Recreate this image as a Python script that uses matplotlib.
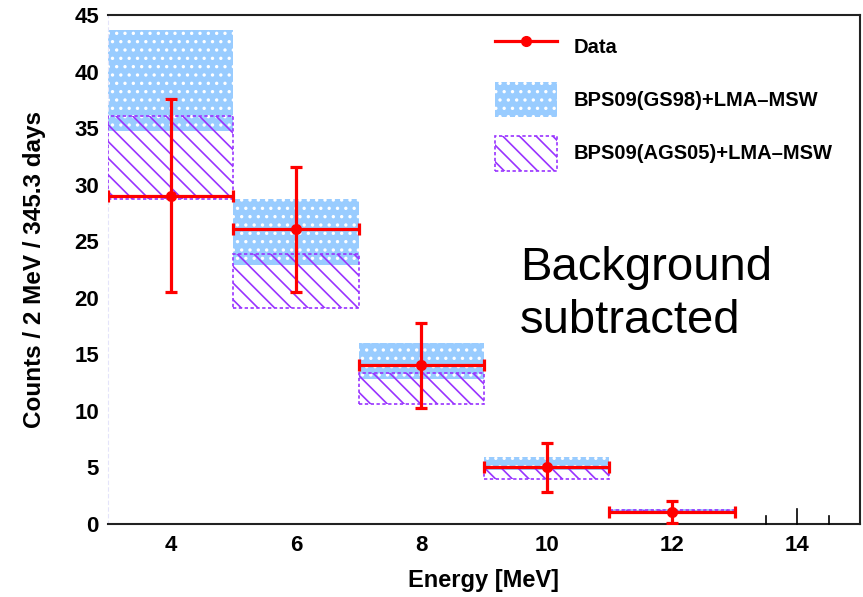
import matplotlib
matplotlib.use("Agg")
import matplotlib.pyplot as plt
from matplotlib.lines import Line2D
import numpy as np

# energy bins (2 MeV wide)
bin_centers = [4, 6, 8, 10, 12]
bin_width = 2.0

# measured counts (background subtracted) and asymmetric errors
data_counts = [29.0, 26.05, 14.05, 5.07, 1.08]
data_err_up = [8.55, 5.55, 3.75, 2.13, 0.92]
data_err_down = [8.5, 5.55, 3.8, 2.27, 1.0]

# BPS09(GS98)+LMA-MSW prediction band
gs98_low = [34.7, 22.9, 12.8, 4.8, 1.0]
gs98_high = [43.7, 28.7, 16.0, 5.9, 1.35]

# BPS09(AGS05)+LMA-MSW prediction band
ags05_low = [28.7, 19.07, 10.6, 3.98, 0.95]
ags05_high = [36.1, 23.85, 13.35, 5.0, 1.25]

x_ticks = [4, 6, 8, 10, 12, 14]
y_ticks = [0, 5, 10, 15, 20, 25, 30, 35, 40, 45]

plt.rcParams['hatch.linewidth'] = 1.2
font_main = 'Liberation Sans'

fig = plt.figure(figsize=(8.63, 5.97), dpi=100)
ax = fig.add_axes([0.1251, 0.1223, 0.8714, 0.8526])

blue = '#99ccff'
purple = '#9933ff'

gs_h = np.array(gs98_high) - np.array(gs98_low)
ags_h = np.array(ags05_high) - np.array(ags05_low)

gs_bars = ax.bar(bin_centers, gs_h, bottom=gs98_low, width=bin_width, color=blue,
                 edgecolor='white', hatch='..', linewidth=0, zorder=2)
ags_bars = ax.bar(bin_centers, ags_h, bottom=ags05_low, width=bin_width, facecolor='none',
                  edgecolor=purple, hatch='\\\\', linewidth=1.2, linestyle=(0, (2, 1.5)), zorder=3)

ax.errorbar(bin_centers, data_counts, xerr=bin_width / 2, yerr=[data_err_down, data_err_up],
            fmt='o', color='red', ms=7, elinewidth=2.3, capsize=4, capthick=2.3, zorder=4)

data_handle = Line2D([], [], color='red', marker='o', ms=7, lw=2.3)
ax.legend([data_handle, gs_bars, ags_bars],
          ['Data', 'BPS09(GS98)+LMA\u2013MSW', 'BPS09(AGS05)+LMA\u2013MSW'],
          loc='upper left', bbox_to_anchor=(0.5146, 0.972), frameon=False,
          borderpad=0, borderaxespad=0, handlelength=3.08, handleheight=2.3,
          labelspacing=0.9, handletextpad=0.85,
          prop={'family': font_main, 'weight': 'bold', 'size': 14.5})

ax.text(0.548, 0.479, 'Background', transform=ax.transAxes, fontsize=34,
        family=font_main, va='baseline', ha='left')
ax.text(0.548, 0.375, 'subtracted', transform=ax.transAxes, fontsize=34,
        family=font_main, va='baseline', ha='left')

ax.set_xlim(3, 15)
ax.set_ylim(0, 45)
ax.set_xticks(x_ticks)
ax.set_yticks(y_ticks)
ax.tick_params(axis='both', length=0, labelsize=16)
ax.tick_params(axis='x', pad=8)
ax.tick_params(axis='y', pad=6.5)
for lab in ax.get_xticklabels() + ax.get_yticklabels():
    lab.set_family(font_main)
    lab.set_weight('bold')

# only the tick marks on the empty right part of the axis are visible
trans = ax.get_xaxis_transform()
for xt, ln in [(13.5, 0.015), (14, 0.03), (14.5, 0.015)]:
    ax.plot([xt, xt], [0, ln], color='black', lw=1.2, transform=trans, clip_on=False, zorder=5)

ax.set_xlabel('Energy [MeV]', family=font_main, weight='bold', fontsize=17, labelpad=9)
ax.set_ylabel('Counts / 2 MeV / 345.3 days', family=font_main, weight='bold', fontsize=17.5, labelpad=20)

ax.spines['left'].set_color('#e4e4fa')
ax.spines['left'].set_linestyle((0, (3, 3)))
for s in ['bottom', 'top', 'right']:
    ax.spines[s].set_color('#222222')
    ax.spines[s].set_linewidth(1.5)

fig.savefig('out.png', dpi=100)
